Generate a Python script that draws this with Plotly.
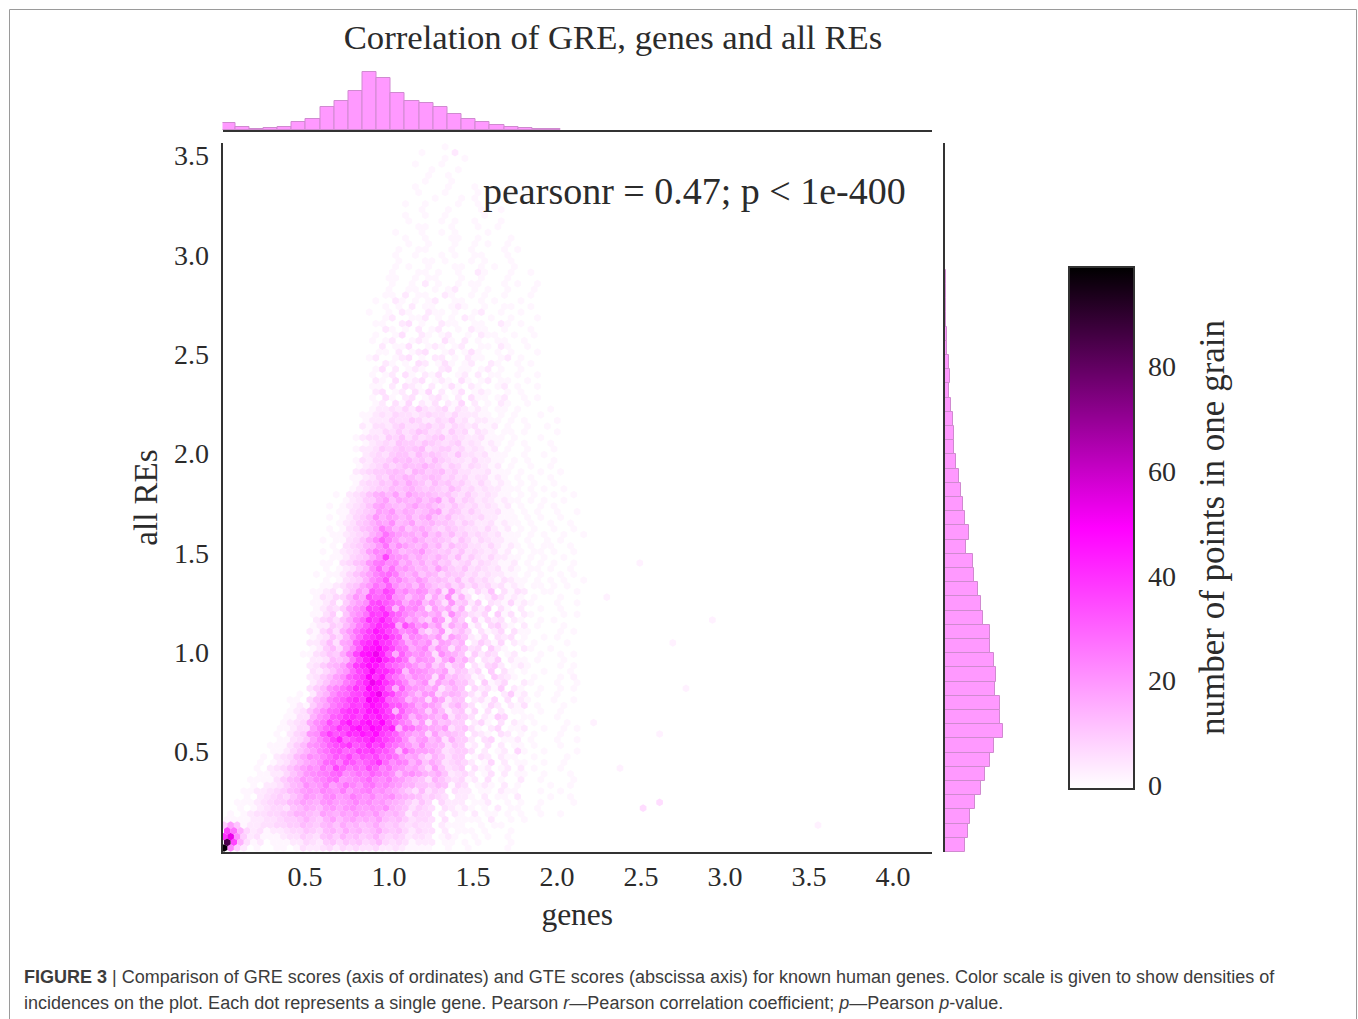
import plotly.graph_objects as go

W, H = 1358, 1019
SERIF = "Liberation Serif"
INK = "#2b2b2b"

# marginal histograms (bin heights)
top_hist = [7.3, 3, 1.3, 1.7, 2.7, 8.3, 11.3, 23.7, 29, 39.7, 59.3, 53.3, 37.7, 29.7, 27.3, 23, 16.3, 11.3,
            8.3, 5, 3, 1.7, 1.3, 1]
right_hist = [20.3, 23.3, 25, 30.3, 36.3, 40.3, 45.3, 49, 57.7, 55.3, 55.3, 49.7, 50.7, 49, 45.3, 45.3, 38,
              36.3, 33.3, 29.3, 27.7, 21.3, 24, 20, 18.3, 16.3, 14, 11.3, 9.3, 9.3, 8.3, 5.7, 4.3, 4.7, 3.7,
              2.3, 2, 1.3, 1, 0.7, 0.7, 0.3, 0.3]

# hexbin grain counts, top row first: first column of each row, then one base-36 digit per cell
# (digit x 1.8 = count; digit 1 = a faint cell of one point)
hex_starts = [31,30,32,29,30,31,28,29,28,30,27,28,26,28,27,25,27,26,25,26,25,24,25,24,25,24,
              22,22,22,22,22,22,22,22,22,22,22,22,22,22,22,22,22,22,22,22,
              16,16,16,16,16,16,16,16,16,16,16,16,16,16,16,
              14,14,14,14,14,14,14,14,14,14,14,14,14,14,14,14,14,
              12,12,12,12,12,12,12,12,12,12,12,12,12,12,12,12,12,12,
              9,9,9,8,8,7,7,7,6,6,5,5,4,4,4,3,3,2,2,1,1,0,0,0,0,0,0,0]
hex_rows = [
"00100","100002","01001","1000100","0100010","100100","001000100","10000100010",
"0100010000100","001000101000","10010000100100","0010001000010010","0100100100000100",
"10000101001000100","0011000100010010","01000100101000010","1001000110010000100","001001000100101001",
"01001100010010000101","10010001010011000100","01000110100010100010","001010010001100101001",
"1000110100100210001001","0110010110001001000100","10010201001011000101001","0100110010120010100100010",
"00110201100210010100100010","01002101012001100101000100","00101020110012100100110010",
"10010210021101001200100100","00120011201010210010010001","01100230100211001100210100",
"00210102012001021100100010","01001300210120010211001001","10120012100310201001100100",
"00201130012101200110210010","01102012300120131001010001","12001230102201021100120100",
"00210103201310120021001010","01302012100230110120100100","10120310213001202011001001",
"02103012301210310120110010","11020321020131021001201001","02301203140201301210010100",
"10310230123102031101200101","01203140213021402010210010",
"0000"+"0012"+"2324253"+"23413212"+"10110100"+"001000","0000"+"0112"+"3243323"+"43324222"+"11010100"+"010000",
"0000"+"0122"+"2433542"+"24352312"+"21101010"+"000100","0000"+"0213"+"3245334"+"53424323"+"11201001"+"001000",
"0000"+"0122"+"4353465"+"34253413"+"21011010"+"000100","0000"+"1233"+"2546353"+"45634322"+"31110100"+"010000",
"0000"+"0123"+"4365546"+"54345232"+"12101010"+"001000","0000"+"1223"+"5456567"+"34553423"+"21201001"+"000100",
"0000"+"0234"+"3566475"+"65436332"+"31110010"+"010000","0000"+"1324"+"4576756"+"47543324"+"22110101"+"000100",
"0000"+"1234"+"6457668"+"65354243"+"21201001"+"001000","0000"+"2345"+"5676487"+"56745332"+"23111010"+"010010",
"0001"+"1235"+"4768756"+"76453423"+"31210101"+"001000","0000"+"1344"+"6586976"+"47564532"+"42121010"+"100100",
"0001"+"2345"+"5767865"+"65475342"+"32211101"+"010010",
"0001"+"0234"+"6897a"+"6a8776"+"56435323"+"21101010"+"010010","0000"+"1235"+"58a69"+"87968a"+"47354232"+"12110101"+"001000",
"0010"+"1234"+"69a87"+"68a786"+"54643423"+"21201001"+"010000","0001"+"1345"+"6a9b7"+"98679a"+"46535322"+"31101010"+"010010",
"0010"+"1245"+"7b8a9"+"7968a6"+"57443342"+"21110101"+"001000","0001"+"2356"+"8a9c7"+"8a6786"+"65354223"+"12110100"+"100100",
"0010"+"1346"+"79eb8"+"a68975"+"46543324"+"21201010"+"010010","0011"+"2345"+"8afca"+"997a68"+"57453432"+"31110101"+"001001",
"0101"+"1346"+"9cgda"+"78a867"+"65364243"+"22110100"+"101000","0010"+"3457"+"8bf9c"+"a87968"+"47553324"+"21210101"+"100100",
"0101"+"2346"+"adcea"+"789b76"+"56463432"+"31201011"+"010010","0011"+"2456"+"9ckcb"+"a79768"+"64735324"+"22110101"+"001000",
"0110"+"3467"+"befcd"+"8a7968"+"56345243"+"21120101"+"010010","0101"+"2357"+"cgbfa"+"b9786a"+"75463432"+"31210110"+"100100",
"1011"+"2468"+"adfge"+"98a687"+"46553423"+"22110101"+"001010","0101"+"3458"+"ceibd"+"a8b967"+"64735342"+"13211010"+"101001",
"0112"+"3569"+"bfdhc"+"9a7b86"+"57463534"+"23121011"+"010100",
"011"+"2314"+"6a8"+"hfki"+"bdacb"+"7a3c52"+"142603132"+"00110001","001"+"3244"+"7b9"+"ighj"+"cb7ab"+"495c38"+"301253121"+"01000100",
"011"+"2415"+"8ac"+"jkig"+"e9cd7"+"a73b56"+"250321412"+"10001001","001"+"2435"+"9bd"+"kjmh"+"8fcda"+"3a7948"+"142503102"+"00100100",
"011"+"3516"+"acf"+"lkni"+"gdb9a"+"8a3c75"+"324051302"+"10000101","002"+"4536"+"9dg"+"mkok"+"ge9b7"+"5ca285"+"051423021"+"00101000",
"012"+"2547"+"aeh"+"knml"+"9jfbd"+"8b3968"+"130452102"+"01000100","021"+"4638"+"bfi"+"lpnk"+"hcdf7"+"47b257"+"403124031"+"10000101",
"012"+"3648"+"cgk"+"mook"+"i8dca"+"8b3a86"+"214032301"+"00101000","022"+"4739"+"ahl"+"nqml"+"he9ca"+"c4a968"+"025314021"+"01000010",
"012"+"5749"+"dio"+"prnk"+"gf9bd"+"6b9386"+"340521002"+"10010000","113"+"4659"+"ekp"+"qtoi"+"9hdbc"+"a3c986"+"152430120"+"00100101",
"022"+"3768"+"ejo"+"rsnk"+"if7cb"+"a49c68"+"403250211"+"01000100","023"+"578a"+"fln"+"qpmi"+"gedb8"+"b58367"+"031452012"+"10000101",
"032"+"469b"+"gkm"+"snnk"+"h7dcb"+"98a365"+"240503101"+"00100010","023"+"57ac"+"hjl"+"rmpi"+"fc9cb"+"a3b675"+"412053210"+"01000101",
"024"+"69ae"+"gkn"+"tqmj"+"gd8ac"+"4a7966"+"305124002"+"10001001","035"+"7bdf"+"imk"+"rpni"+"9hcba"+"8a3686"+"042315021"+"00100101",
"001"+"026"+"8cfg"+"jkn"+"qtmk"+"fda7b"+"b47875"+"314002512"+"01001000","011"+"047"+"9dfh"+"kmk"+"sqoh"+"ge8ba"+"4b9366"+"023140302"+"10001001",
"012"+"158"+"aegi"+"lkn"+"qomi"+"ifd9b"+"a83685"+"301420213"+"01000100","0012"+"369"+"cfgk"+"mnl"+"pqnk"+"8hdca"+"5a7256"+"140302011"+"00100100",
"0113"+"38b"+"dhil"+"mko"+"npmk"+"ie8ca"+"97a365"+"302154001"+"10001000","00123"+"49c"+"ejgm"+"plo"+"qnrl"+"hec7b"+"396755"+"024103021"+"01000010",
"01124"+"4ad"+"gimk"+"oqn"+"rpmo"+"8gfca"+"98a356"+"310240112"+"00100101","01024"+"5bc"+"hlij"+"nmp"+"nqlj"+"hdb9a"+"4a6765"+"032103201"+"01000100",
"001134"+"6ad"+"gkoh"+"jlm"+"pmki"+"gc7ab"+"793855"+"203401120"+"10001001","011135"+"7bc"+"ehjk"+"mij"+"nkmh"+"fdb8c"+"887365"+"120302011"+"01000100",
"0011246"+"8ad"+"fijg"+"hlk"+"mjif"+"7gcaa"+"973455"+"302012041"+"00100001","0102347"+"9cb"+"dfih"+"kgj"+"ikgh"+"fb9a6"+"486355"+"013202110"+"01000010",
"01012357"+"9ac"+"ghej"+"ifh"+"jmgc"+"ed8b6"+"973454"+"201402011"+"00100100","01023468"+"acb"+"fdkh"+"egf"+"jhdf"+"cb9a7"+"4a6345"+"031201202"+"01000100",
"01122468"+"bcd"+"eghc"+"dfe"+"hfec"+"7bca8"+"796234"+"201302011"+"00100010","011113578"+"bac"+"dfgb"+"cde"+"gdce"+"ba876"+"386434"+"120301002"+"00100001",
"010223578"+"cab"+"eacf"+"dbe"+"fcdb"+"a8866"+"576143"+"012102010"+"00010010","0112234578"+"aba"+"dcbe"+"acd"+"ebca"+"97537"+"354032"+"201102110"+"00100100",
"0102345468"+"ba9"+"cdab"+"ecb"+"dabc"+"98764"+"543022"+"102011020"+"00010010","01112345578"+"a98"+"bcaa"+"bdb"+"cab9"+"87536"+"404222"+"011200101"+"00100001",
"01012344367"+"987"+"ab9b"+"caa"+"bac8"+"76354"+"303212"+"101020110"+"01000000","010123344568"+"876"+"a98a"+"9ba"+"9b87"+"86254"+"402021"+"020110101"+"00100100",
"111122334556"+"865"+"8a79"+"a89"+"8a76"+"75344"+"303011"+"110200101","5a6122334455"+"765"+"7869"+"786"+"7965"+"64343"+"302111"+"001011000",
"kf8423122344"+"654"+"7869"+"786"+"7965"+"64243"+"302011"+"101000100",
"m0c523111233"+"543"+"6758"+"675"+"6854"+"54233"+"201210"+"010100100",
"0k8312011122"+"432"+"5646"+"564"+"5743"+"43122"+"201101"+"010000100",
"0d5201001101"+"322"+"3424"+"343"+"3422"+"32111"+"100100"+"100000100",
]

# single grains stated as explicit counts: the dark corner and the far strays
extra_col = [0, 0, 1, 63, 66, 60, 56, 53, 66, 68, 70, 58, 63, 74, 90]
extra_row = [0, 1, 2, 7, 8, 14, 22, 30, 20, 36, 28, 44, 50, 40, 4]
extra_cnt = [98, 84, 53, 6, 6, 2, 2, 2, 2, 2, 2, 2, 2, 2, 2]

n_rows = len(hex_rows)
cell_x, cell_y, cell_c = [], [], []
PX_X = 168.0
PX_Y = 198.67
XMIN = 1.5 / PX_X
XMAX = 711 / PX_X
YMIN = -1 / PX_Y
YMAX = 708 / PX_Y
PITCH_X = 6.6 / PX_X
PITCH_Y = 5.7 / PX_Y


def grid_x(col, row):
    return 3 / PX_X + (col + 0.5 * (row % 2)) * PITCH_X


def grid_y(row):
    return 3 / PX_Y + row * PITCH_Y


for i, (start, text) in enumerate(zip(hex_starts, hex_rows)):
    row = n_rows - 1 - i
    for j, ch in enumerate(text):
        d = int(ch, 36)
        v = 1 if d == 1 else d * 1.8
        if v > 0:
            cell_x.append(grid_x(start + j, row))
            cell_y.append(grid_y(row))
            cell_c.append(v)
for col, row, cnt in zip(extra_col, extra_row, extra_cnt):
    cell_x.append(grid_x(col, row))
    cell_y.append(grid_y(row))
    cell_c.append(cnt)

fig = go.Figure()
fig.add_trace(go.Scatter(
    x=cell_x, y=cell_y, mode="markers", xaxis="x", yaxis="y", showlegend=False, hoverinfo="skip",
    marker=dict(symbol="hexagon", size=7.7, color=cell_c, coloraxis="coloraxis", line=dict(width=0)),
))
BAR = dict(color="#ff99ff", line=dict(color="#d08ad0", width=1))
BIN_X = 14.15 / PX_X
BIN_Y = 14.2 / PX_Y
fig.add_trace(go.Bar(x=[(i + 0.5) * BIN_X for i in range(len(top_hist))], y=top_hist, width=BIN_X,
                     xaxis="x2", yaxis="y2", marker=BAR, showlegend=False, hoverinfo="skip"))
fig.add_trace(go.Bar(y=[YMIN + (i + 0.5) * BIN_Y for i in range(len(right_hist))], x=right_hist, width=BIN_Y,
                     orientation="h", xaxis="x3", yaxis="y3", marker=BAR, showlegend=False, hoverinfo="skip"))


def dx(a, b):
    return [a / W, b / W]


def dy(top, bottom):
    return [1 - bottom / H, 1 - top / H]


AX = dict(showgrid=False, zeroline=False, showline=True, linecolor="#333333", linewidth=2)
HID = dict(showgrid=False, zeroline=False, ticks="", showticklabels=False)
TICK = dict(family=SERIF, size=28, color=INK)

fig.update_layout(
    width=W, height=H, margin=dict(l=0, r=0, t=0, b=0, autoexpand=False), paper_bgcolor="white", plot_bgcolor="white",
    showlegend=False, bargap=0,
    title=dict(text="Correlation of GRE, genes and all REs", x=613 / W, xanchor="center", y=1 - 37 / H,
               yanchor="middle", font=dict(family=SERIF, size=34.7, color=INK)),
    xaxis=dict(domain=dx(222.5, 932), range=[XMIN, XMAX], tickvals=[0.5, 1, 1.5, 2, 2.5, 3, 3.5, 4],
               ticktext=["0.5", "1.0", "1.5", "2.0", "2.5", "3.0", "3.5", "4.0"], tickfont=TICK, ticks="",
               ticklabelstandoff=-2,
               title=dict(text="genes", font=dict(family=SERIF, size=31.5, color=INK), standoff=12), **AX),
    yaxis=dict(domain=dy(143, 852), range=[YMIN, YMAX], tickvals=[0.5, 1, 1.5, 2, 2.5, 3, 3.5],
               ticktext=["0.5", "1.0", "1.5", "2.0", "2.5", "3.0", "3.5"], tickfont=TICK,
               ticks="outside", ticklen=6, tickcolor="rgba(0,0,0,0)",
               title=dict(text="all REs", font=dict(family=SERIF, size=33, color=INK), standoff=6), **AX),
    xaxis2=dict(domain=dx(222.5, 932), range=[XMIN, XMAX], anchor="y2", showticklabels=False, ticks="", **AX),
    yaxis2=dict(domain=dy(65, 130), range=[0, 66], anchor="x2", visible=False, **HID),
    xaxis3=dict(domain=dx(945, 1012), range=[0, 67], anchor="y3", visible=False, **HID),
    yaxis3=dict(domain=dy(143, 852), range=[YMIN, YMAX], anchor="x3", showticklabels=False, ticks="", **AX),
    coloraxis=dict(
        cmin=-0.7, cmax=99,
        colorscale=[[0, "#ffffff"], [0.5, "#ff00ff"], [1, "#000000"]],
        colorbar=dict(
            x=1069 / W, xanchor="left", xpad=0, y=1 - 267 / H, yanchor="top", ypad=0,
            len=522, lenmode="pixels", thickness=65, thicknessmode="pixels",
            outlinewidth=2, outlinecolor="#333333", ticks="outside", ticklen=8, tickcolor="rgba(0,0,0,0)",
            tickvals=[0, 20, 40, 60, 80], tickfont=dict(family=SERIF, size=28, color=INK),
        ),
    ),
    annotations=[
        dict(text="pearsonr = 0.47; p &lt; 1e-400", xref="paper", yref="paper", x=694 / W, y=1 - 191 / H,
             xanchor="center", yanchor="middle", showarrow=False, font=dict(family=SERIF, size=38, color=INK)),
        dict(text="number of points in one grain", xref="paper", yref="paper", x=1212 / W, y=1 - 528 / H,
             textangle=-90, xanchor="center", yanchor="middle", showarrow=False,
             font=dict(family=SERIF, size=35, color=INK)),
        dict(text="<b>FIGURE 3</b> | Comparison of GRE scores (axis of ordinates) and GTE scores (abscissa axis) for known human genes. Color scale is given to show densities of",
             xref="paper", yref="paper", x=21.5 / W, y=1 - 977 / H, xanchor="left", yanchor="middle", showarrow=False,
             font=dict(family="Liberation Sans", size=18, color="#3c3c3c")),
        dict(text="incidences on the plot. Each dot represents a single gene. Pearson <i>r</i>\u2014Pearson correlation coefficient; <i>p</i>\u2014Pearson <i>p</i>-value.",
             xref="paper", yref="paper", x=21.5 / W, y=1 - 1003 / H, xanchor="left", yanchor="middle", showarrow=False,
             font=dict(family="Liberation Sans", size=18, color="#3c3c3c")),
    ],
    shapes=[
        dict(type="path", xref="paper", yref="paper", layer="above",
             path=f"M {9.5 / W} 0 L {9.5 / W} {1 - 9.5 / H} L {1356.5 / W} {1 - 9.5 / H} L {1356.5 / W} 0",
             line=dict(color="#9a9a9a", width=1)),
    ],
)

fig.write_html("out.html", config={"displayModeBar": False},
               post_script="document.body.style.margin='0';document.documentElement.style.overflow='hidden';")
